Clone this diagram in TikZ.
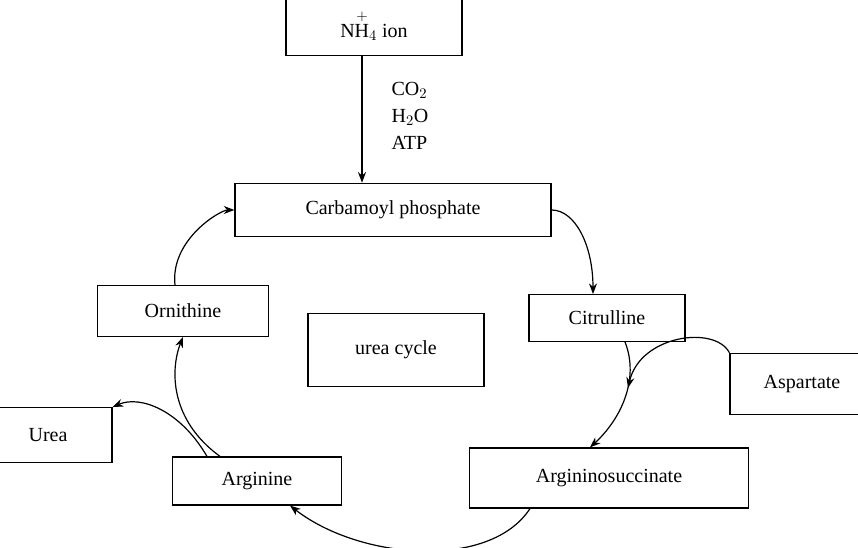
\documentclass[tikz,border=0pt]{standalone}
\usepackage{amsmath}
\usepackage{fontspec}
\setmainfont{Liberation Serif}
\usetikzlibrary{arrows.meta}
\begin{document}
\begin{tikzpicture}[x=0.75pt,y=0.75pt,yscale=-1,xscale=1,
  box/.style={draw,line width=0.9pt,inner sep=0pt,font=\fontsize{15}{18}\selectfont},
  arr/.style={line width=0.9pt,-{Stealth[length=8pt,width=6pt]}}]
\useasboundingbox (0,0) rectangle (858,548);

\node[box,minimum width=132,minimum height=46] (nh) at (374,25) {N$\overset{+}{\mathrm{H}}_4$ ion};
\node[box,minimum width=237,minimum height=40] (carb) at (393,210) {Carbamoyl phosphate};
\node[box,minimum width=117,minimum height=35] (cit) at (607,318) {Citrulline};
\node[box,minimum width=108,minimum height=46] (asp) at (802,384) {Aspartate};
\node[box,minimum width=209,minimum height=45] (argsuc) at (609,478) {Argininosuccinate};
\node[box,minimum width=127,minimum height=36] (arg) at (257,481) {Arginine};
\node[box,minimum width=96,minimum height=41] (urea) at (48,435) {Urea};
\node[box,minimum width=128,minimum height=38] (orn) at (183,311) {Ornithine};
\node[box,minimum width=132,minimum height=55] (cyc) at (396,350) {urea cycle};

\node[font=\fontsize{15}{18}\selectfont,align=left] (reag) at (410,116) {CO$_2$\\[2pt]H$_2$O\\[2pt]ATP};

\draw[arr] (nh.south -| 362,0) -- (carb.north -| 362,0);
\draw[arr] (carb.east) .. controls (575,210) and (593,245) .. (cit.north -| 593,0);
\draw[arr] (cit.south -| 625,0) .. controls (640,380) and (620,420) .. (argsuc.north -| 590,0);
\draw[arr] (asp.north west) .. controls (715,325) and (640,335) .. (628,388);
\draw[arr] (argsuc.south -| 530,0) .. controls (490,570) and (360,560) .. (arg.south -| 290,0);
\draw[arr] (arg.north -| 220,0) .. controls (170,420) and (170,370) .. (orn.south);
\draw[arr] (arg.north -| 207,0) .. controls (180,410) and (140,395) .. (urea.north east);
\draw[arr] (orn.north -| 175,0) .. controls (170,240) and (220,210) .. (carb.west);
\end{tikzpicture}
\end{document}
